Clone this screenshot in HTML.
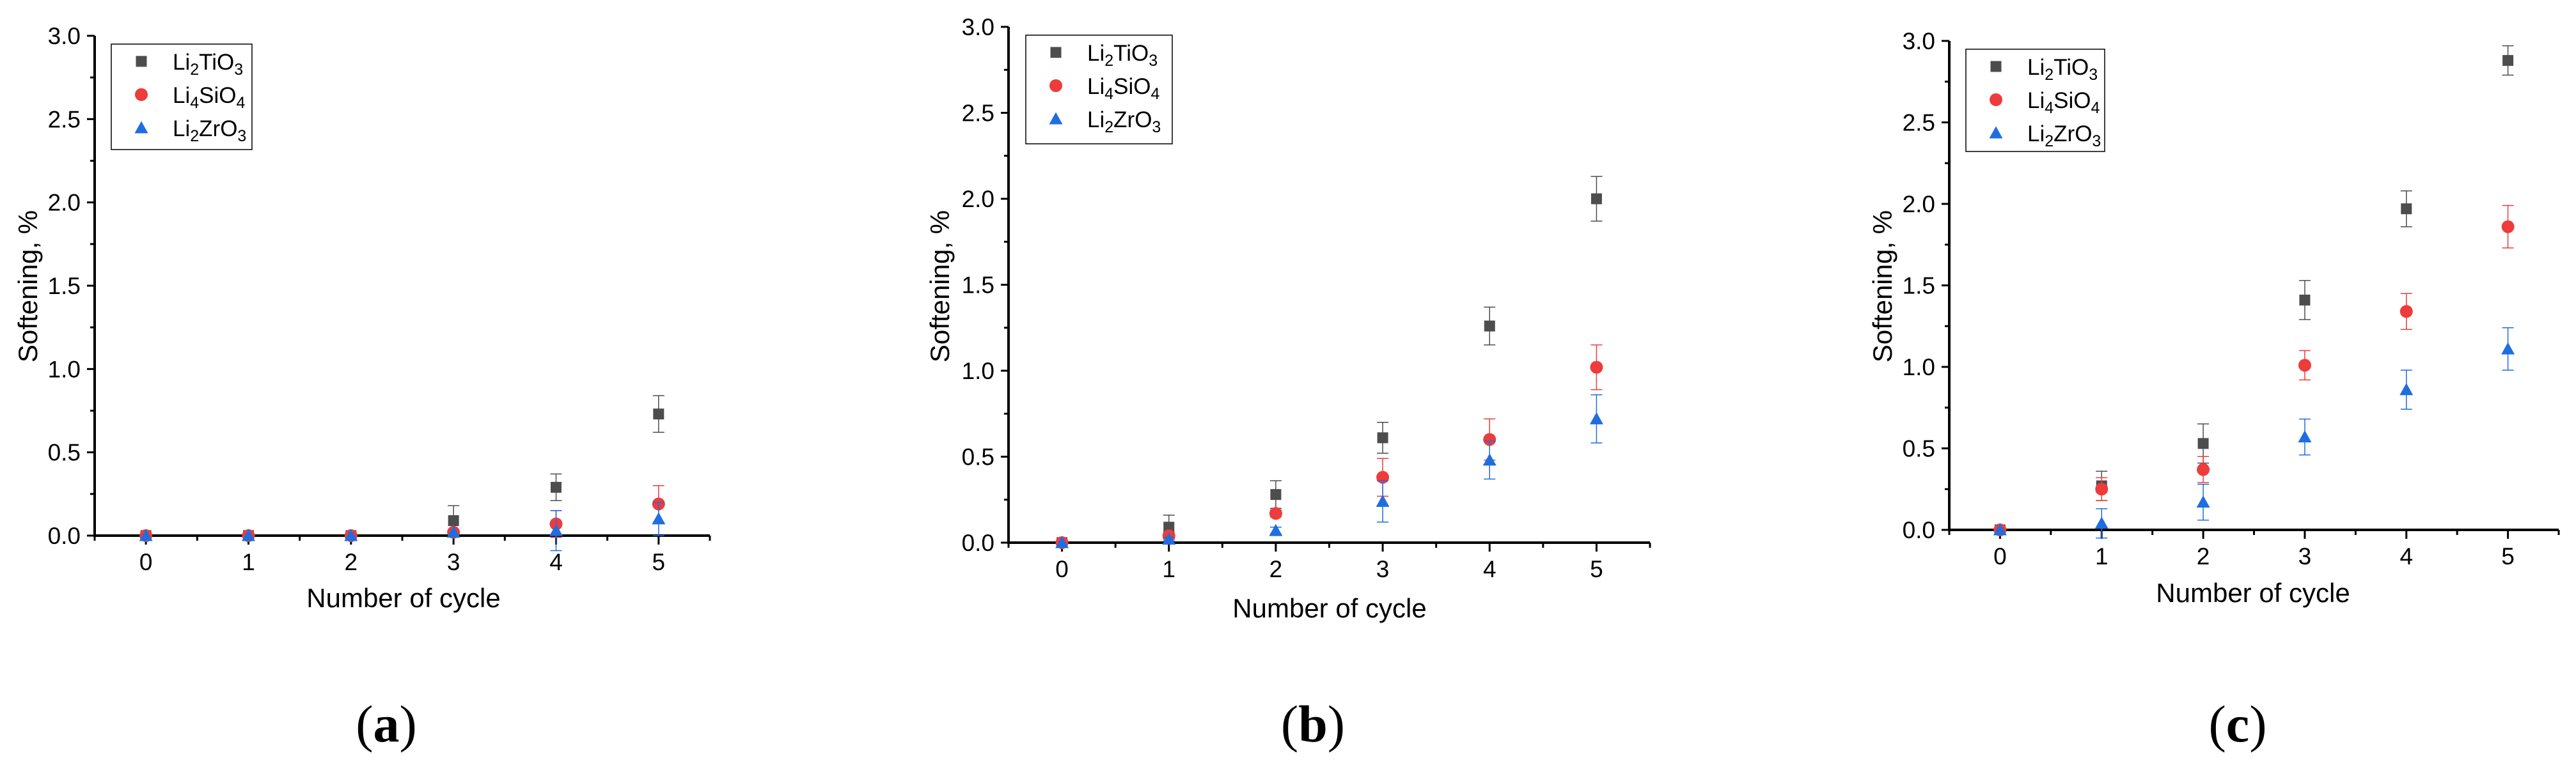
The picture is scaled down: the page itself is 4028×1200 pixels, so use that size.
<!DOCTYPE html>
<html><head><meta charset="utf-8"><style>
html,body{margin:0;padding:0;background:#fff;width:4028px;height:1200px;overflow:hidden}
svg{display:block;font-family:"Liberation Sans",sans-serif}
</style></head><body>
<svg id="fig" width="4028" height="1200"></svg>
<script>
const categories=[0,1,2,3,4,5];
const yTicks=["0.0","0.5","1.0","1.5","2.0","2.5","3.0"];
const seriesNames=["Li2TiO3","Li4SiO4","Li2ZrO3"];
const aTi=[0,0,0,0.09,0.29,0.73], aTiErr=[0,0,0,0.09,0.08,0.11];
const aSi=[0,0,0,0.02,0.07,0.19], aSiErr=[0,0,0,0,0.08,0.11];
const aZr=[0,0,0,0.02,0.03,0.10], aZrErr=[0,0,0,0,0.12,0.1];
const bTi=[0,0.09,0.28,0.61,1.26,2.0], bTiErr=[0,0.07,0.08,0.09,0.11,0.13];
const bSi=[0,0.04,0.17,0.38,0.60,1.02], bSiErr=[0,0.02,0.02,0.11,0.12,0.13];
const bZr=[0,0.02,0.07,0.24,0.48,0.72], bZrErr=[0,0.01,0.02,0.12,0.11,0.14];
const cTi=[0,0.27,0.53,1.41,1.97,2.88], cTiErr=[0,0.09,0.12,0.12,0.11,0.09];
const cSi=[0,0.25,0.37,1.01,1.34,1.86], cSiErr=[0,0.07,0.08,0.09,0.11,0.13];
const cZr=[0,0.04,0.17,0.57,0.86,1.11], cZrErr=[0,0.09,0.11,0.11,0.12,0.13];

const NS="http://www.w3.org/2000/svg";
const svg=document.getElementById('fig');
const colors=["#4d4d4d","#ee3b3b","#1e6ee0"];
function mk(tag,attrs,parent){const e=document.createElementNS(NS,tag);for(const k in attrs)e.setAttribute(k,attrs[k]);(parent||svg).appendChild(e);return e;}

const panels=[
 {id:"a",L:148,R:1110,y0:838,yTop:56,leg:[174,69,394,234],lab:[604,1160],xt:[631,950],yt:[47,448],data:[[aTi,aTiErr],[aSi,aSiErr],[aZr,aZrErr]]},
 {id:"b",L:1577,R:2580,y0:849,yTop:42,leg:[1604,55,1833,225],lab:[2053,1160],xt:[2079,966],yt:[1473,448],data:[[bTi,bTiErr],[bSi,bSiErr],[bZr,bZrErr]]},
 {id:"c",L:3048,R:4001,y0:829,yTop:64,leg:[3074,77,3291,237],lab:[3499,1160],xt:[3523,942],yt:[2947,448],data:[[cTi,cTiErr],[cSi,cSiErr],[cZr,cZrErr]]}
];

function marker(g,type,cx,cy,s){
  if(type===0) return mk('rect',{x:cx-s/2,y:cy-s/2,width:s,height:s,fill:colors[0]},g);
  if(type===1) return mk('circle',{cx:cx,cy:cy,r:s/2+1.5,fill:colors[1]},g);
  return mk('polygon',{points:`${cx-s/2-2},${cy+s/2} ${cx+s/2+2},${cy+s/2} ${cx},${cy-s/2-2}`,fill:colors[2]},g);
}

panels.forEach(p=>{
  const g=mk('g',{});
  
  
  const xs=v=>p.L+(p.R-p.L)*(v+0.5)/6;
  const ys=v=>p.y0-(p.y0-p.yTop)*v/3;
  const ax=mk('line',{x1:p.L,y1:p.yTop,x2:p.L,y2:p.y0+2,stroke:"#000","stroke-width":4},g);
  
  const bx=mk('line',{x1:p.L-2,y1:p.y0,x2:p.R,y2:p.y0,stroke:"#000","stroke-width":4},g);
  
  yTicks.forEach((t,i)=>{
    const v=parseFloat(t), y=ys(v);
    mk('line',{x1:p.L-12,y1:y,x2:p.L,y2:y,stroke:"#000","stroke-width":3},g);
    if(i<yTicks.length-1) mk('line',{x1:p.L-7,y1:ys(v+0.25),x2:p.L,y2:ys(v+0.25),stroke:"#000","stroke-width":3},g);
    const tx=mk('text',{x:p.L-22,y:y+13,"text-anchor":"end","font-size":37,fill:"#000"},g);
    tx.textContent=t;
    
  });
  categories.forEach(c=>{
    const x=xs(c);
    mk('line',{x1:x,y1:p.y0,x2:x,y2:p.y0+14,stroke:"#000","stroke-width":3},g);
    const tx=mk('text',{x:x,y:p.y0+54,"text-anchor":"middle","font-size":37,fill:"#000"},g);
    tx.textContent=c;
    
  });
  for(let c=-0.5;c<=5.5;c+=1){mk('line',{x1:xs(c),y1:p.y0,x2:xs(c),y2:p.y0+8,stroke:"#000","stroke-width":3},g);}
  const xt=mk('text',{x:p.xt[0],y:p.xt[1],"text-anchor":"middle","font-size":42,fill:"#000"},g);
  xt.textContent="Number of cycle";
  
  const yt=mk('text',{x:p.yt[0],y:p.yt[1],"text-anchor":"middle","font-size":42,fill:"#000",transform:`rotate(-90 ${p.yt[0]} ${p.yt[1]})`,"dominant-baseline":"middle"},g);
  yt.textContent="Softening, %";
  
  p.data.forEach((sd,si)=>{
    const [vals,errs]=sd;
    vals.forEach((v,i)=>{
      const x=xs(categories[i]);
      if(errs[i]>0){
        const e1=ys(v+errs[i]), e2=ys(v-errs[i]);
        mk('line',{x1:x,y1:e1,x2:x,y2:e2,stroke:colors[si],"stroke-width":1.5},g);
        mk('line',{x1:x-9,y1:e1,x2:x+9,y2:e1,stroke:colors[si],"stroke-width":1.5},g);
        mk('line',{x1:x-9,y1:e2,x2:x+9,y2:e2,stroke:colors[si],"stroke-width":1.5},g);
      }
      const m=marker(g,si,x,ys(v),17);
      
      
    });
  });
  const lg=mk('g',{},g);
  
  const [lx1,ly1,lx2,ly2]=p.leg;
  mk('rect',{x:lx1,y:ly1,width:lx2-lx1,height:ly2-ly1,fill:"#fff",stroke:"#000","stroke-width":1.5},lg);
  const legParts=[["Li","2","TiO","3"],["Li","4","SiO","4"],["Li","2","ZrO","3"]];
  legParts.forEach((parts,i)=>{
    const yy=ly1+27+i*52;
    marker(lg,i,lx1+47,yy,17);
    const t=mk('text',{x:lx1+96,y:yy+13,"font-size":35,fill:"#000"},lg);
    
    
    parts.forEach((s,k)=>{const ts=mk('tspan',k%2? {"font-size":25,dy:8}:{dy:k===0?0:-8},t);ts.textContent=s;});
  });
  const pl=mk('text',{x:p.lab[0],y:p.lab[1],"text-anchor":"middle","font-size":82,fill:"#000","font-family":"Liberation Serif, serif"},g);
  pl.innerHTML='(<tspan font-weight="bold">'+p.id+'</tspan>)';
  
});
</script>
</body></html>
